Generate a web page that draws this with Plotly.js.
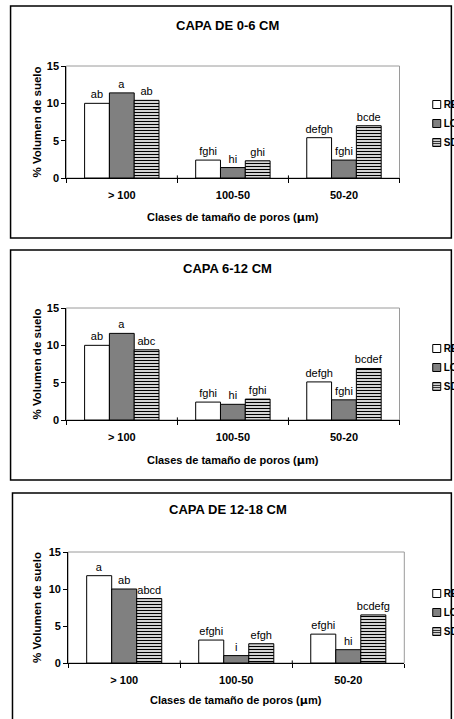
<!DOCTYPE html>
<html>
<head>
<meta charset="utf-8">
<script src="https://cdn.plot.ly/plotly-3.0.1.min.js"></script>
<style>
html,body{margin:0;padding:0;background:#fff;}
#chart{width:454px;height:719px;}
</style>
</head>
<body>
<div id="chart"></div>
<script>
// ---- data ----
const categories = ["> 100", "100-50", "50-20"];
const seriesNames = ["RE", "LO", "SD"];
const panelTitles = ["CAPA DE 0-6 CM", "CAPA 6-12 CM", "CAPA DE 12-18 CM"];

const p1_RE = [10.0, 2.4, 5.4];
const p1_LO = [11.4, 1.4, 2.4];
const p1_SD = [10.4, 2.3, 7.0];
const p1_RE_lbl = ["ab", "fghi", "defgh"];
const p1_LO_lbl = ["a", "hi", "fghi"];
const p1_SD_lbl = ["ab", "ghi", "bcde"];

const p2_RE = [10.0, 2.4, 5.1];
const p2_LO = [11.6, 2.1, 2.7];
const p2_SD = [9.4, 2.8, 6.9];
const p2_RE_lbl = ["ab", "fghi", "defgh"];
const p2_LO_lbl = ["a", "hi", "fghi"];
const p2_SD_lbl = ["abc", "fghi", "bcdef"];

const p3_RE = [11.8, 3.1, 3.9];
const p3_LO = [10.0, 1.0, 1.8];
const p3_SD = [8.7, 2.6, 6.5];
const p3_RE_lbl = ["a", "efghi", "efghi"];
const p3_LO_lbl = ["ab", "i", "hi"];
const p3_SD_lbl = ["abcd", "efgh", "bcdefg"];

const yTicks = [0, 5, 10, 15];
const yTitle = "% Volumen de suelo";
const xTitle = "Clases de tamaño de poros (<span style='font-family:DejaVu Sans'>μ</span>m)";

// ---- layout helpers (pixels -> paper) ----
const W = 454, H = 719;
const px = v => v / W;
const py = v => 1 - v / H;
const FONT = "Liberation Sans, Arial, sans-serif";

const panels = [
  {vals: [p1_RE, p1_LO, p1_SD], lbls: [p1_RE_lbl, p1_LO_lbl, p1_SD_lbl], x0: 69, x1: 416, yTop: 66, yBot: 178, frame: [11, 6, 238], title: 25, xt: 217, yt: 39, leg: 90},
  {vals: [p2_RE, p2_LO, p2_SD], lbls: [p2_RE_lbl, p2_LO_lbl, p2_SD_lbl], x0: 69, x1: 416, yTop: 308, yBot: 420, frame: [11, 250, 480], title: 268, xt: 460, yt: 39, leg: 334},
  {vals: [p3_RE, p3_LO, p3_SD], lbls: [p3_RE_lbl, p3_LO_lbl, p3_SD_lbl], x0: 71, x1: 421, yTop: 552, yBot: 663, frame: [13, 493, 740], title: 509, xt: 700, yt: 38, leg: 579}
];

const styles = [
  {color: "#ffffff", pattern: {shape: ""}},
  {color: "#808080", pattern: {shape: ""}},
  {color: "#ffffff", pattern: {shape: "-", fgcolor: "#000000", bgcolor: "#ffffff", size: 3, solidity: 0.45, fillmode: "replace"}}
];

const traces = [];
const layout = {
  width: W, height: H,
  margin: {l: 0, r: 0, t: 0, b: 0},
  paper_bgcolor: "#ffffff",
  plot_bgcolor: "#ffffff",
  barmode: "group",
  bargap: 0.33,
  bargroupgap: 0,
  font: {family: FONT, color: "#000000", size: 10},
  shapes: [],
  annotations: []
};

panels.forEach((p, i) => {
  const n = i + 1;
  const xa = n === 1 ? "x" : "x" + n;
  const ya = n === 1 ? "y" : "y" + n;
  const legName = n === 1 ? "legend" : "legend" + n;
  for (let s = 0; s < 3; s++) {
    traces.push({
      type: "bar",
      name: seriesNames[s],
      x: categories,
      y: p.vals[s],
      text: p.lbls[s],
      textposition: "outside",
      constraintext: "none",
      textfont: {family: FONT, size: 11, color: "#000000"},
      cliponaxis: false,
      xaxis: xa, yaxis: ya,
      legend: legName,
      marker: {color: styles[s].color, line: {color: "#000000", width: 1}, pattern: styles[s].pattern},
      hoverinfo: "skip"
    });
  }
  layout["xaxis" + (n === 1 ? "" : n)] = {
    domain: [px(p.x0), px(p.x1)],
    anchor: ya,
    type: "category",
    showline: true, linecolor: "#000000", linewidth: 1,
    ticks: "outside", tickson: "boundaries", ticklen: 4, tickcolor: "#000000",
    ticklabelstandoff: 7,
    tickfont: {family: FONT, size: 11, weight: "bold"},
    showgrid: false, zeroline: false, fixedrange: true
  };
  layout["yaxis" + (n === 1 ? "" : n)] = {
    domain: [py(p.yBot), py(p.yTop)],
    anchor: xa,
    range: [0, 15],
    tickvals: yTicks,
    showline: true, linecolor: "#000000", linewidth: 1,
    ticks: "outside", ticklen: 4, tickcolor: "#000000",
    tickfont: {family: FONT, size: 11, weight: "bold"},
    showgrid: false, zeroline: false, fixedrange: true
  };
  layout[legName] = {
    x: px(410), y: py(p.leg), xanchor: "left", yanchor: "top",
    bgcolor: "rgba(0,0,0,0)", borderwidth: 0,
    font: {family: FONT, size: 10, weight: "bold"},
    tracegroupgap: 0, itemwidth: 30
  };
  // panel frame
  layout.shapes.push({type: "rect", xref: "paper", yref: "paper",
    x0: px(p.frame[0]), x1: px(470), y0: py(p.frame[2]), y1: py(p.frame[1]),
    line: {color: "#000000", width: 1.5}, layer: "below"});
  // plot-area border (grey)
  layout.shapes.push({type: "rect", xref: xa + " domain", yref: ya + " domain",
    x0: 0, x1: 1, y0: 0, y1: 1, line: {color: "#9a9a9a", width: 1}, layer: "below"});
  // crossing category tick marks (upper part)
  [0.5, 1.5].forEach(b => {
    layout.shapes.push({type: "line", xref: xa, yref: ya, x0: b, x1: b, y0: 0, y1: 0.35,
      line: {color: "#000000", width: 1}});
  });
  // titles
  layout.annotations.push({text: panelTitles[i], xref: "paper", yref: "paper",
    x: px(237), y: py(p.title), xanchor: "center", yanchor: "middle", showarrow: false,
    font: {family: FONT, size: 13, weight: "bold"}});
  layout.annotations.push({text: xTitle, xref: "paper", yref: "paper",
    x: px((p.x0 + p.x1) / 2), y: py(p.xt), xanchor: "center", yanchor: "middle", showarrow: false,
    font: {family: FONT, size: 11, weight: "bold"}});
  layout.annotations.push({text: yTitle, xref: "paper", yref: "paper", textangle: -90,
    x: px(p.yt), y: py((p.yTop + p.yBot) / 2), xanchor: "center", yanchor: "middle", showarrow: false,
    font: {family: FONT, size: 11.5, weight: "bold"}});
});

Plotly.newPlot("chart", traces, layout, {staticPlot: true, displayModeBar: false}).then(gd => {
  // smaller legend swatches placed close to the text, as in the original
  gd.querySelectorAll("g.legendpoints path").forEach(el => {
    el.setAttribute("d", "M4,4H-4V-4H4Z");
    el.setAttribute("transform", (el.getAttribute("transform") || "") + " translate(13,0)");
  });
  // Plotly keeps legends fully inside the page; the original lets them run off the right edge
  ["legend", "legend2", "legend3"].forEach(c => {
    gd.querySelectorAll("g." + c).forEach(g => {
      g.setAttribute("transform", (g.getAttribute("transform") || "") + " translate(10,0)");
    });
  });
});
</script>
</body>
</html>
